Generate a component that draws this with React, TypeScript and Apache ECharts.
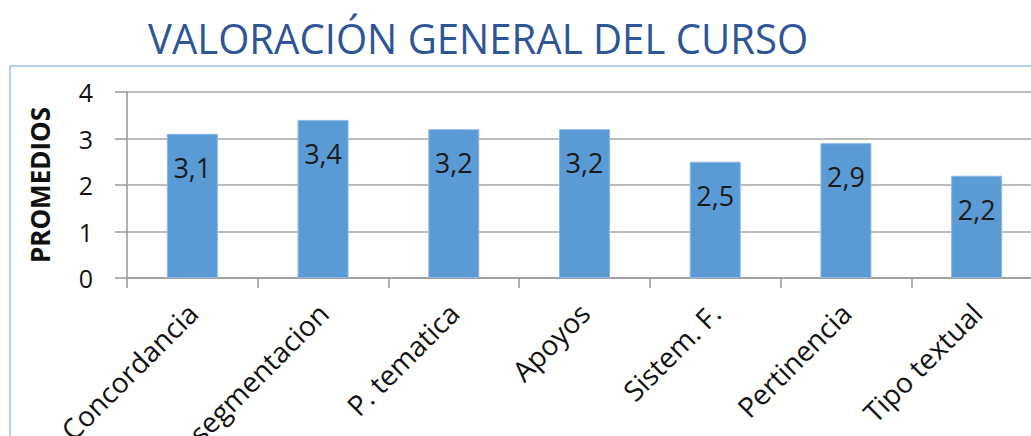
import React, { useEffect, useRef } from "react";
import * as echarts from "echarts";

const titleText = "VALORACIÓN GENERAL DEL CURSO";
const yAxisName = "PROMEDIOS";
const categories = [
  "Concordancia",
  "segmentacion",
  "P. tematica",
  "Apoyos",
  "Sistem. F.",
  "Pertinencia",
  "Tipo textual",
];
const values = [3.1, 3.4, 3.2, 3.2, 2.5, 2.9, 2.2];
const yTicks = [0, 1, 2, 3, 4];

export default function App() {
  const ref = useRef<HTMLDivElement>(null);
  useEffect(() => {
    if (!ref.current) return;
    const chart = echarts.init(ref.current, null, { renderer: "svg" });
    chart.setOption({
      animation: false,
      backgroundColor: "#ffffff",
      graphic: [
        {
          type: "text",
          x: 148,
          y: 17,
          scaleX: 0.955,
          style: {
            text: titleText,
            font: "42px 'Open Sans'",
            fill: "#2F5597",
          },
        },
        {
          type: "line",
          shape: { x1: 10, y1: 66, x2: 1031, y2: 66 },
          style: { stroke: "#9DC3E6", lineWidth: 1.5 },
        },
        {
          type: "line",
          shape: { x1: 10, y1: 66, x2: 10, y2: 436 },
          style: { stroke: "#9DC3E6", lineWidth: 1.5 },
        },
      ],
      grid: {
        left: 127,
        right: -11,
        top: 92,
        bottom: 158,
        containLabel: false,
        outerBoundsMode: "none",
      },
      xAxis: {
        type: "category",
        data: categories,
        axisLine: { lineStyle: { color: "#999999", width: 1.5 } },
        axisTick: { show: true, length: 10, lineStyle: { color: "#999999", width: 1.5 } },
        axisLabel: {
          rotate: 45,
          margin: 30,
          fontSize: 28,
          fontFamily: "'Open Sans'",
          color: "#111111",
          interval: 0,
        },
      },
      yAxis: {
        type: "value",
        min: yTicks[0],
        max: yTicks[yTicks.length - 1],
        interval: 1,
        name: yAxisName,
        nameLocation: "middle",
        nameRotate: 90,
        nameGap: 74,
        nameTextStyle: {
          fontSize: 26,
          fontWeight: "bold",
          fontFamily: "'Open Sans'",
          color: "#111111",
        },
        axisLine: { show: true, lineStyle: { color: "#999999", width: 1.5 } },
        axisTick: { show: true, length: 12, lineStyle: { color: "#999999", width: 1.5 } },
        axisLabel: {
          margin: 34,
          fontSize: 25,
          fontFamily: "'Open Sans'",
          color: "#111111",
        },
        splitLine: { show: true, lineStyle: { color: "#A6A6A6", width: 1.5 } },
      },
      series: [
        {
          type: "bar",
          data: values,
          barWidth: 51,
          itemStyle: { color: "#5B9BD5", borderColor: "#8DB8E6", borderWidth: 1 },
          label: {
            show: true,
            position: "insideTop",
            distance: 20,
            fontSize: 27,
            fontFamily: "'Open Sans'",
            color: "#1a1a1a",
            formatter: (p: any) => String(p.value).replace(".", ","),
          },
        },
      ],
    });
    return () => chart.dispose();
  }, []);
  return (
    <div
      ref={ref}
      style={{ position: "fixed", left: 0, top: 0, width: 1031, height: 436 }}
    />
  );
}
